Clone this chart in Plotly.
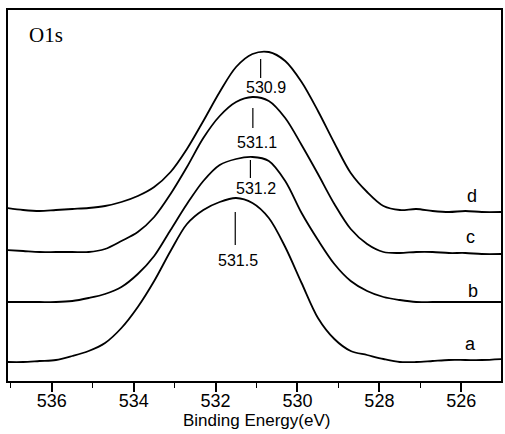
import plotly.graph_objects as go

# Binding energies (eV) and stacked intensities (arb. units)
energy = [537.1, 536.7, 536.3, 535.9, 535.5, 535.1, 534.7, 534.3, 533.9, 533.5,
          533.1, 532.7, 532.3, 531.9, 531.5, 531.1, 530.7, 530.3, 529.9, 529.5,
          529.1, 528.7, 528.3, 527.9, 527.5, 527.1, 526.7, 526.3, 525.9, 525.5, 525.0]

inten_a = [18, 18, 19, 20, 24, 29, 37, 52, 73, 99,
           129, 156, 170, 178, 182, 177, 162, 133, 97, 62,
           41, 29, 25, 21, 18, 18, 19, 20, 20, 20, 21]
inten_b = [78, 78, 78, 78, 79, 82, 86, 93, 106, 124,
           150, 176, 199, 215, 221, 223, 219, 199, 167, 140,
           116, 99, 89, 83, 80, 78, 78, 78, 78, 78, 78]
inten_c = [130, 129, 128, 128, 128, 128, 131, 139, 148, 163,
           186, 213, 242, 264, 278, 283, 279, 262, 235, 206,
           176, 151, 136, 128, 127, 128, 128, 127, 127, 126, 126]
inten_d = [172, 170, 169, 170, 171, 172, 174, 178, 184, 193,
           208, 231, 259, 288, 313, 326, 328, 319, 298, 269,
           237, 207, 188, 174, 170, 171, 169, 168, 169, 168, 168]

series_names = ["a", "b", "c", "d"]
series_values = [inten_a, inten_b, inten_c, inten_d]

# Peak labels and the short vertical markers
peak_labels = ["531.5", "531.2", "531.1", "530.9"]
marker_x = [531.52, 531.15, 531.09, 530.90]
marker_y0 = [135, 202, 252, 302]
marker_y1 = [168, 220, 272, 321]
peak_label_x = [531.46, 531.02, 531.00, 530.77]
peak_label_y = [120, 192, 238, 293]

curve_label_x = [525.77, 525.72, 525.77, 525.73]
curve_label_y = [36, 89, 143, 184]

x_ticks = [536, 534, 532, 530, 528, 526]

fig = go.Figure()
for name, ys in zip(series_names, series_values):
    fig.add_trace(go.Scatter(x=energy, y=ys, mode="lines", name=name,
                             line=dict(color="black", width=1.8, shape="spline", smoothing=0.9),
                             showlegend=False, hoverinfo="skip"))

for mx, y0, y1 in zip(marker_x, marker_y0, marker_y1):
    fig.add_trace(go.Scatter(x=[mx, mx], y=[y0, y1], mode="lines",
                             line=dict(color="black", width=1.2),
                             showlegend=False, hoverinfo="skip"))

sans = "Liberation Sans, Arial, sans-serif"
for txt, lx, ly in zip(peak_labels, peak_label_x, peak_label_y):
    fig.add_annotation(x=lx, y=ly, text=txt, showarrow=False,
                       font=dict(family=sans, size=16, color="black"),
                       xanchor="center", yanchor="middle")

for name, lx, ly in zip(series_names, curve_label_x, curve_label_y):
    fig.add_annotation(x=lx, y=ly, text=name, showarrow=False,
                       font=dict(family=sans, size=18, color="black"),
                       xanchor="center", yanchor="middle")

fig.add_annotation(x=536.13, y=345, text="O1s", showarrow=False,
                   font=dict(family="Liberation Serif, Times New Roman, serif", size=21, color="black"),
                   xanchor="center", yanchor="middle")

# x-axis title placed as annotation for precise position
fig.add_annotation(xref="paper", yref="paper", x=0.505, y=-0.107,
                   text="Binding Energy(eV)", showarrow=False,
                   font=dict(family=sans, size=17, color="black"),
                   xanchor="center", yanchor="middle")

fig.update_layout(
    width=505, height=434,
    margin=dict(l=8, r=2, t=10, b=53),
    paper_bgcolor="white", plot_bgcolor="white",
    xaxis=dict(range=[537.07, 525.03], tickvals=x_ticks,
               ticktext=[str(t) for t in x_ticks],
               ticks="outside", ticklen=9, tickwidth=1.5, tickcolor="black",
               ticklabelstandoff=-7,
               minor=dict(dtick=1, tick0=0, ticks="outside", ticklen=5, tickwidth=1.2, tickcolor="black"),
               showline=True, linewidth=2.2, linecolor="black", mirror=True,
               showgrid=False, zeroline=False,
               tickfont=dict(family=sans, size=18, color="black")),
    yaxis=dict(range=[-1, 370], showticklabels=False, ticks="",
               showline=True, linewidth=1.5, linecolor="black", mirror=True,
               showgrid=False, zeroline=False),
)

fig.write_html("out.html")
